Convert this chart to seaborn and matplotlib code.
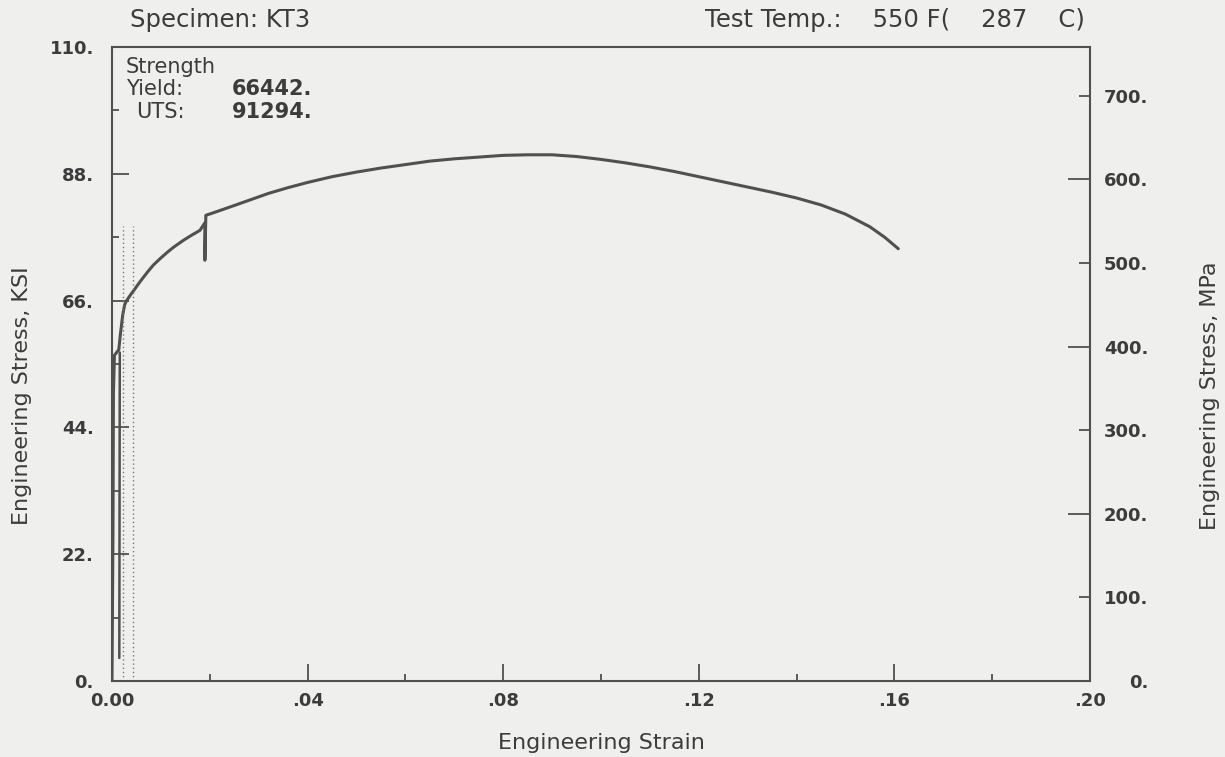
import matplotlib
matplotlib.use("Agg")
import matplotlib.pyplot as plt
import seaborn as sns
import numpy as np
import pandas as pd
from matplotlib.ticker import FixedLocator, FixedFormatter

# ---- data ----
strain = [0.0, 0.0002, 0.0003, 0.0005, 0.0014, 0.0017, 0.0022, 0.0026, 0.0030,
          0.0038, 0.0045, 0.0055, 0.0063, 0.0075, 0.0085, 0.0100, 0.0112, 0.0125,
          0.0145, 0.0160, 0.0180, 0.0190, 0.0190, 0.0192, 0.0206,
          0.0240, 0.0280, 0.0320, 0.0360, 0.0400, 0.0450, 0.0500, 0.0550,
          0.0600, 0.0650, 0.0700, 0.0750, 0.0800, 0.0850, 0.0900, 0.0950,
          0.1000, 0.1050, 0.1100, 0.1150, 0.1200, 0.1250, 0.1300, 0.1350,
          0.1400, 0.1450, 0.1500, 0.1550, 0.1580, 0.1608]
stress_ksi = [0.0, 25.0, 50.0, 56.5, 57.5, 60.0, 63.5, 65.3, 66.0,
              67.0, 67.8, 69.0, 69.9, 71.2, 72.2, 73.4, 74.3, 75.2,
              76.4, 77.2, 78.2, 79.5, 73.0, 80.8, 81.2,
              82.2, 83.4, 84.6, 85.6, 86.5, 87.5, 88.3, 89.0,
              89.6, 90.2, 90.6, 90.9, 91.2, 91.3, 91.3, 91.0,
              90.5, 89.9, 89.2, 88.4, 87.5, 86.6, 85.7, 84.8,
              83.8, 82.6, 81.0, 78.8, 77.0, 75.0]
# second near-vertical elastic trace
elastic_strain = [0.0015, 0.0016]
elastic_stress = [4.0, 57.0]
# dotted offset lines
offset_strain = [0.0022, 0.0043]
offset_top_ksi = 79.0

yield_psi = "66442."
uts_psi = "91294."

x_major = [0.0, 0.04, 0.08, 0.12, 0.16, 0.20]
x_labels = ["0.00", ".04", ".08", ".12", ".16", ".20"]
x_minor = [0.02, 0.06, 0.10, 0.14, 0.18]
ksi_major = [0, 22, 44, 66, 88, 110]
ksi_labels = ["0.", "22.", "44.", "66.", "88.", "110."]
ksi_minor = [11, 33, 55, 77, 99]
mpa_major = [0, 200, 400, 600]
mpa_minor = [100, 300, 500, 700]
KSI_TO_MPA = 6.89476

# ---- style ----
sns.set_theme(style="ticks")
plt.rcParams["font.family"] = ["DejaVu Sans"]
bg = "#efefed"
ink = "#505050"
txt = "#3c3c3c"

fig = plt.figure(figsize=(12.25, 7.57), dpi=100, facecolor=bg)
ax = fig.add_axes([0.0914, 0.1004, 0.7984, 0.8375])
ax.set_facecolor(bg)

df = pd.DataFrame({"strain": strain, "stress": stress_ksi})
sns.lineplot(data=df, x="strain", y="stress", sort=False, estimator=None,
             color=ink, linewidth=2.2, ax=ax)
sns.lineplot(x=elastic_strain, y=elastic_stress, sort=False, estimator=None,
             color=ink, linewidth=1.8, ax=ax)
for s in offset_strain:
    ax.plot([s, s], [0, offset_top_ksi], color="#777777", linewidth=1.0,
            linestyle=(0, (1, 2)))

ax.set_xlim(0, 0.20)
ax.set_ylim(0, 110)

for sp in ax.spines.values():
    sp.set_color(ink)
    sp.set_linewidth(1.5)

ax.xaxis.set_major_locator(FixedLocator(x_major))
ax.xaxis.set_major_formatter(FixedFormatter(x_labels))
ax.xaxis.set_minor_locator(FixedLocator(x_minor))
ax.yaxis.set_major_locator(FixedLocator(ksi_major))
ax.yaxis.set_major_formatter(FixedFormatter(ksi_labels))
ax.yaxis.set_minor_locator(FixedLocator(ksi_minor))

ax.tick_params(axis="both", which="major", direction="in", length=12, width=1.3,
               color=ink, labelsize=13, labelcolor=txt)
ax.tick_params(axis="both", which="minor", direction="in", length=5, width=1.3,
               color=ink)
ax.tick_params(axis="x", which="major", pad=8)
ax.tick_params(axis="y", which="major", pad=13)
for lab in ax.get_xticklabels() + ax.get_yticklabels():
    lab.set_fontweight("bold")

ax.set_xlabel("Engineering Strain", fontsize=16, color=txt)
ax.xaxis.set_label_coords(0.5, -0.082)
ax.set_ylabel("Engineering Stress, KSI", fontsize=16, color=txt)
ax.yaxis.set_label_coords(-0.082, 0.45)

# right axis in MPa
ax2 = ax.twinx()
ax2.set_ylim(0, 110 * KSI_TO_MPA)
for sp in ax2.spines.values():
    sp.set_visible(False)
ax2.yaxis.set_major_locator(FixedLocator(mpa_major))
ax2.yaxis.set_minor_locator(FixedLocator(mpa_minor))
ax2.yaxis.set_major_formatter(FixedFormatter([f"{v}." for v in mpa_major]))
ax2.yaxis.set_minor_formatter(FixedFormatter([f"{v}." for v in mpa_minor]))
ax2.tick_params(axis="y", which="major", direction="in", length=16, width=1.3,
                color=ink, labelsize=13, labelcolor=txt, pad=42)
ax2.tick_params(axis="y", which="minor", direction="in", length=8, width=1.3,
                color=ink, labelsize=13, labelcolor=txt, pad=42)
for lab in ax2.get_yticklabels(which="both"):
    lab.set_horizontalalignment("right")
    lab.set_fontweight("bold")
ax2.set_ylabel("Engineering Stress, MPa", fontsize=16, color=txt)
ax2.yaxis.set_label_coords(1.1125, 0.45)

# annotation text
fs_note = 15
ax.text(0.0143, 0.985, "Strength", transform=ax.transAxes, fontsize=fs_note,
        color=txt, va="top", ha="left")
ax.text(0.0143, 0.950, "Yield:", transform=ax.transAxes, fontsize=fs_note,
        color=txt, va="top", ha="left")
ax.text(0.1227, 0.950, yield_psi, transform=ax.transAxes, fontsize=fs_note,
        color=txt, va="top", ha="left", fontweight="bold")
ax.text(0.0245, 0.913, "UTS:", transform=ax.transAxes, fontsize=fs_note,
        color=txt, va="top", ha="left")
ax.text(0.1227, 0.913, uts_psi, transform=ax.transAxes, fontsize=fs_note,
        color=txt, va="top", ha="left", fontweight="bold")

# header texts
fig.text(130 / 1225, 1 - 20 / 757, "Specimen: KT3", fontsize=17.5, color=txt,
         ha="left", va="center")
fig.text(1085 / 1225, 1 - 20 / 757, "Test Temp.:    550 F(    287    C)",
         fontsize=17.5, color=txt, ha="right", va="center")

fig.savefig("out.png", dpi=100, facecolor=bg)
